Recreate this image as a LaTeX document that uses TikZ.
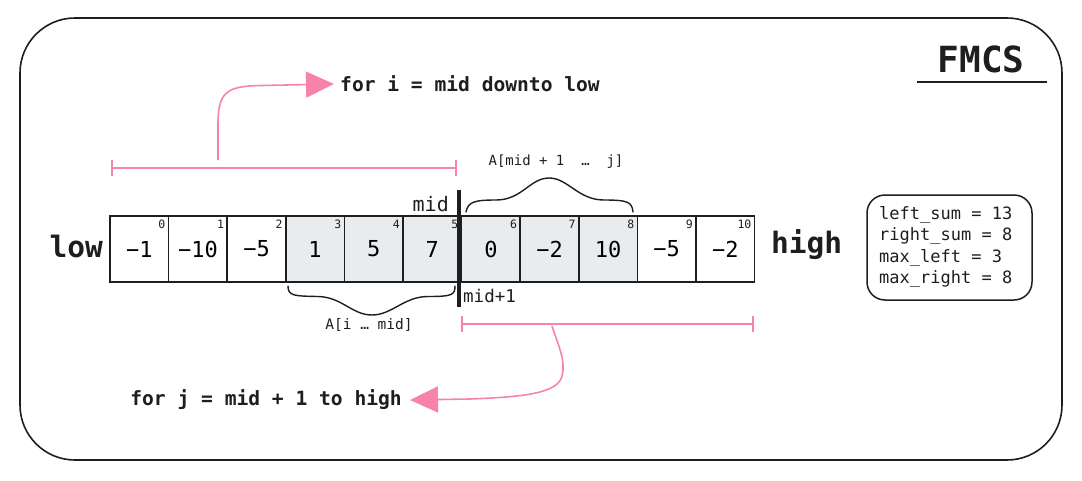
\documentclass[tikz,border=0pt]{standalone}
\usepackage{fontspec}
\setmonofont{DejaVu Sans Mono}
\usetikzlibrary{arrows.meta}
\definecolor{pinkc}{HTML}{F783AC}
\definecolor{cellgray}{HTML}{E9ECEF}
\definecolor{ink}{HTML}{1E1E1E}
\tikzset{
  cellbox/.style={draw=ink, line width=1.6pt, minimum width=58.6pt, minimum height=66pt, inner sep=0pt, outer sep=0pt, font=\ttfamily\fontsize{22}{24}\selectfont},
  idxlabel/.style={anchor=north east, inner sep=1pt, font=\ttfamily\fontsize{11.5}{12}\selectfont, text=ink},
  txt/.style={inner sep=0pt, text=ink, font=\ttfamily},
  pinkline/.style={draw=pinkc, line width=1.6pt},
  pinkarrow/.style={draw=pinkc, line width=1.6pt, -{Triangle[length=28pt,width=26pt,fill=pinkc]}},
  bracestyle/.style={draw=ink, line width=1.4pt, line cap=round}
}
\begin{document}
\begin{tikzpicture}[x=1pt,y=-1pt]
\useasboundingbox (0,0) rectangle (1082,480);
% outer frame
\draw[ink, line width=1.6pt, rounded corners=55pt] (20,18) rectangle (1062,460);
% title
\node[txt, font=\ttfamily\bfseries\fontsize{36}{40}\selectfont] (title) at (981,59) {FMCS};
\draw[ink, line width=1.5pt] (917,82) -- (1047,82);
% cells
\foreach \i/\v/\f in {0/−1/white,1/−10/white,2/−5/white,3/1/cellgray,4/5/cellgray,5/7/cellgray,6/0/cellgray,7/−2/cellgray,8/10/cellgray,9/−5/white,10/−2/white}{
  \node[cellbox, fill=\f] (c\i) at ({110+29.3+\i*58.6},249) {\raisebox{-3pt}{\v}};
  \node[idxlabel, xshift=-2pt, yshift=-3pt] (n\i) at (c\i.north east) {\i};
}
% low / high
\node[txt, font=\ttfamily\bfseries\fontsize{29.5}{32}\selectfont, anchor=east] (low) at (103,246) {low};
\node[txt, font=\ttfamily\bfseries\fontsize{29.5}{32}\selectfont, anchor=west] (high) at (771,245) {high};
% mid line
\coordinate (midtop) at (459,190);
\coordinate (midbot) at (459,307);
\draw[ink, line width=4pt] (midtop) -- (midbot);
\node[txt, font=\ttfamily\fontsize{20}{22}\selectfont, anchor=east] (midlbl) at (449,204) {mid};
\node[txt, font=\ttfamily\fontsize{17.5}{20}\selectfont, anchor=west] (mid1lbl) at (463,296) {mid+1};
% braces
\draw[bracestyle] (288,286) .. controls (288,296) and (294,296) .. (318,296.5) .. controls (342,297) and (352,315) .. (372,315) .. controls (392,315) and (404,296.5) .. (428,296.5) .. controls (452,296.5) and (455,295) .. (455,286);
\node[txt, font=\ttfamily\fontsize{14.5}{16}\selectfont] (lbr) at (369,325) {A[i … mid]};
\draw[bracestyle] (466,212) .. controls (468,202) and (474,200) .. (496,200) .. controls (522,200) and (530,178) .. (549,178) .. controls (568,178) and (578,200) .. (604,200) .. controls (628,200) and (632,202) .. (633,212);
\node[txt, font=\ttfamily\fontsize{14}{16}\selectfont] (rbr) at (556,162) {A[mid + 1\ \ …\ \ j]};
% ranges
\draw[pinkline, {Bar[width=16pt]}-{Bar[width=16pt]}] (111,168) -- (457,168);
\draw[pinkline, {Bar[width=16pt]}-{Bar[width=16pt]}] (461,324) -- (754,324);
% for loops
\node[txt, font=\ttfamily\bfseries\fontsize{19.6}{22}\selectfont, anchor=west] (fori) at (340,84) {for i = mid downto low};
\node[txt, font=\ttfamily\bfseries\fontsize{19.6}{22}\selectfont, anchor=east] (forj) at (402,400) {for j = mid + 1 to high};
\coordinate (s1) at (218,160);
\coordinate (s2) at (552,326);
\draw[pinkarrow] (s1) -- (218,125) .. controls (218,92) and (226,86) .. (262,85.5) -- ([xshift=-6pt]fori.west);
\draw[pinkarrow] (s2) .. controls (558,345) and (566,360) .. (562,376) .. controls (558,394) and (520,397) .. (470,399) -- ([xshift=8pt]forj.east);
% state box
\node[draw=ink, line width=1.5pt, rounded corners=18pt, minimum width=165pt, minimum height=105pt, inner sep=0pt] (state) at (949.5,247.5) {};
\node[txt, font=\ttfamily\fontsize{17}{21.5}\selectfont, align=left, anchor=west] (statetxt) at (879,247) {left\_sum = 13\\right\_sum = 8\\max\_left = 3\\max\_right = 8};
\end{tikzpicture}
\end{document}
